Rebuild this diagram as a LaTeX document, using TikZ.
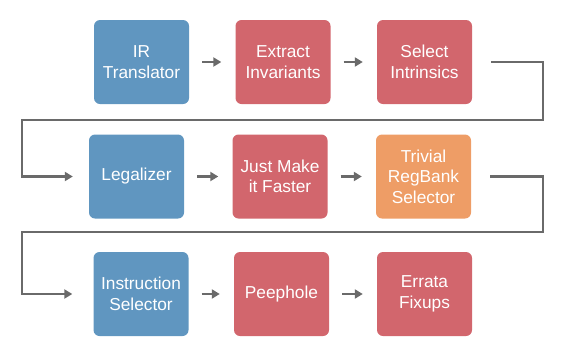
\documentclass[tikz,border=0pt]{standalone}
\usepackage{fontspec}
\setmainfont{Liberation Sans}
\usetikzlibrary{arrows.meta}

\definecolor{passblue}{HTML}{6096C0}
\definecolor{passred}{HTML}{D2666D}
\definecolor{passorange}{HTML}{EE9D66}
\definecolor{wire}{HTML}{6A6A6A}

\tikzset{
  pass/.style={rounded corners=6pt, minimum width=95pt, minimum height=84pt,
    text=white, align=center, inner sep=0pt,
    font=\fontsize{17.3}{20.5}\selectfont},
  flow/.style={wire, line width=2.6pt, -{Triangle[length=8pt,width=9pt]}},
  wrap/.style={wire, line width=2.6pt, -{Triangle[length=8pt,width=9pt]}}
}

\begin{document}
\begin{tikzpicture}[x=1pt, y=-1pt]
  \useasboundingbox (0,0) rectangle (564,354);

  % Row 1
  \node[pass, fill=passblue] (irt) at (141.5,62) {IR\\Translator};
  \node[pass, fill=passred] (exinv) at (283,62) {Extract\\Invariants};
  \node[pass, fill=passred] (selint) at (424.5,62) {Select\\Intrinsics};

  % Row 2
  \node[pass, fill=passblue] (legal) at (136.5,176.5) {Legalizer};
  \node[pass, fill=passred] (faster) at (280,176.5) {Just Make\\it Faster};
  \node[pass, fill=passorange] (regbank) at (423.5,176.5) {Trivial\\RegBank\\Selector};

  % Row 3
  \node[pass, fill=passblue] (isel) at (141,294) {Instruction\\Selector};
  \node[pass, fill=passred] (peep) at (281.5,294) {Peephole};
  \node[pass, fill=passred] (errata) at (424.5,294) {Errata\\Fixups};

  % Short arrows inside each row
  \foreach \a/\b in {irt/exinv, exinv/selint, legal/faster, faster/regbank, isel/peep, peep/errata} {
    \draw[flow] ([xshift=13pt]\a.east) -- ([xshift=-14pt]\b.west);
  }

  % Wrap-around connectors
  \draw[wrap] ([xshift=19pt]selint.east) -| (543,120) -- (22,120) |- ([xshift=-16pt]legal.west);
  \draw[wrap] ([xshift=19pt]regbank.east) -| (543,232) -- (22,232) |- ([xshift=-21pt]isel.west);
\end{tikzpicture}
\end{document}
